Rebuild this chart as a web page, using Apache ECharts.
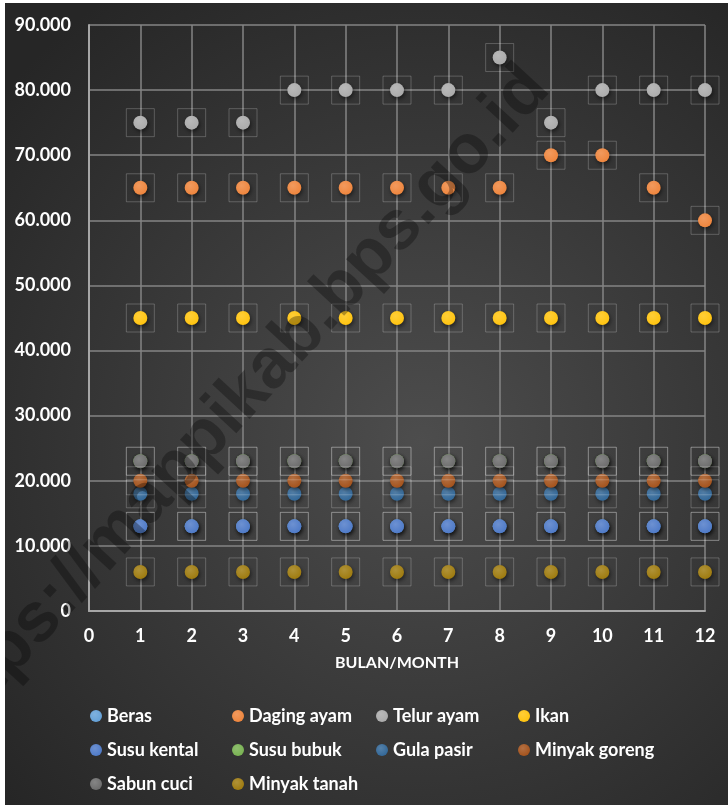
<!DOCTYPE html>
<html>
<head>
<meta charset="utf-8">
<script src="https://cdn.jsdelivr.net/npm/echarts@6/dist/echarts.min.js"></script>
<style>
html,body{margin:0;padding:0;background:#fff;}
#main{width:728px;height:805px;}
</style>
</head>
<body>
<div id="main"></div>
<script>
// ---- data ----
const months = [1,2,3,4,5,6,7,8,9,10,11,12];
const seriesNames = ['Beras','Daging ayam','Telur ayam','Ikan','Susu kental','Susu bubuk','Gula pasir','Minyak goreng','Sabun cuci','Minyak tanah'];
const beras        = [13000,13000,13000,13000,13000,13000,13000,13000,13000,13000,13000,13000];
const dagingAyam   = [65000,65000,65000,65000,65000,65000,65000,65000,70000,70000,65000,60000];
const telurAyam    = [75000,75000,75000,80000,80000,80000,80000,85000,75000,80000,80000,80000];
const ikan         = [45000,45000,45000,45000,45000,45000,45000,45000,45000,45000,45000,45000];
const susuKental   = [13000,13000,13000,13000,13000,13000,13000,13000,13000,13000,13000,13000];
const susuBubuk    = [23000,23000,23000,23000,23000,23000,23000,23000,23000,23000,23000,23000];
const gulaPasir    = [18000,18000,18000,18000,18000,18000,18000,18000,18000,18000,18000,18000];
const minyakGoreng = [20000,20000,20000,20000,20000,20000,20000,20000,20000,20000,20000,20000];
const sabunCuci    = [23000,23000,23000,23000,23000,23000,23000,23000,23000,23000,23000,23000];
const minyakTanah  = [6000,6000,6000,6000,6000,6000,6000,6000,6000,6000,6000,6000];
const xTicks = [0,1,2,3,4,5,6,7,8,9,10,11,12];
const xTitle = 'BULAN/MONTH';
const watermark = 'https://mappikab.bps.go.id';

const values = [beras,dagingAyam,telurAyam,ikan,susuKental,susuBubuk,gulaPasir,minyakGoreng,sabunCuci,minyakTanah];
const colors = ['#5B9BD5','#ED7D31','#A5A5A5','#FFC000','#4472C4','#70AD47','#255E91','#9E480E','#636363','#997300'];

const FONT = 'Lato, "Open Sans", sans-serif';

function lighten(hex, t){
  const n = parseInt(hex.slice(1),16);
  let r=(n>>16)&255,g=(n>>8)&255,b=n&255;
  r=Math.round(r+(255-r)*t);g=Math.round(g+(255-g)*t);b=Math.round(b+(255-b)*t);
  return 'rgb('+r+','+g+','+b+')';
}
function fmt(v){ return String(v).replace(/\B(?=(\d{3})+(?!\d))/g,'.'); }

const series = seriesNames.map((name,i)=>({
  name: name,
  type: 'scatter',
  symbol: 'circle',
  symbolSize: 14,
  color: colors[i],
  itemStyle: {
    opacity: 1,
    color: {type:'radial',x:0.4,y:0.35,r:0.7,colorStops:[{offset:0,color:lighten(colors[i],0.22)},{offset:1,color:lighten(colors[i],0.05)}]},
    shadowBlur: 4, shadowColor:'rgba(0,0,0,0.55)', shadowOffsetX:1, shadowOffsetY:2
  },
  label: {
    show: true, position: 'inside', formatter: ' ',
    width: 28, height: 28, lineHeight: 28, padding: 0,
    borderColor: 'rgba(255,255,255,0.22)', borderWidth: 1,
    fontSize: 10
  },
  emphasis: {disabled:true},
  data: months.map((m,k)=>[m, values[i][k]])
}));

const legendCols = [
  {left: 85,  data: ['Beras','Susu kental','Sabun cuci']},
  {left: 227, data: ['Daging ayam','Susu bubuk','Minyak tanah']},
  {left: 371, data: ['Telur ayam','Gula pasir']},
  {left: 513, data: ['Ikan','Minyak goreng']}
];

const chart = echarts.init(document.getElementById('main'));
chart.setOption({
  animation: false,
  backgroundColor: {type:'radial',x:0.58,y:0.55,r:0.75,colorStops:[{offset:0,color:'#4d4d4d'},{offset:1,color:'#262626'}]},
  grid: {left: 89, right: 23, top: 25, bottom: 194},
  xAxis: {
    type: 'value', min: 0, max: 12, interval: 1,
    name: xTitle, nameLocation: 'middle', nameGap: 44,
    nameTextStyle: {color:'#fff', fontSize: 16, fontWeight:'bold', fontFamily: FONT},
    axisLine: {show:true, lineStyle:{color:'#a6a6a6', width:2}},
    axisTick: {show:false},
    axisLabel: {color:'#fff', fontSize:18, fontWeight:'bold', fontFamily: FONT, margin:16,
      formatter: v => xTicks.indexOf(v) >= 0 ? String(v) : ''},
    splitLine: {show:true, lineStyle:{color:'#858585', width:1.5}}
  },
  yAxis: {
    type: 'value', min: 0, max: 90000, interval: 10000,
    axisLine: {show:true, lineStyle:{color:'#a6a6a6', width:2}},
    axisTick: {show:false},
    axisLabel: {color:'#fff', fontSize:18, fontWeight:'bold', fontFamily: FONT, margin:18, formatter: fmt},
    splitLine: {show:true, lineStyle:{color:'#858585', width:1.5}}
  },
  legend: legendCols.map(c=>({
    left: c.left, top: 701, orient:'vertical', data: c.data,
    icon: 'circle', itemWidth: 12, itemHeight: 12, itemGap: 14,
    selectedMode: false,
    textStyle: {color:'#fff', fontSize:18, fontWeight:'bold', fontFamily: FONT, lineHeight: 20}
  })),
  graphic: [
    {type:'rect', z:200, shape:{x:0,y:0,width:728,height:3}, style:{fill:'#ffffff'}},
    {type:'rect', z:200, shape:{x:0,y:0,width:5,height:805}, style:{fill:'#ffffff'}},
    {type:'text', z:150, x:236, y:405, rotation: 0.827,
      style:{text: watermark, fill:'rgba(0,0,0,0.3)', font:'bold 70px "Liberation Sans", sans-serif', align:'center', verticalAlign:'middle'}}
  ],
  series: series
});
</script>
</body>
</html>
